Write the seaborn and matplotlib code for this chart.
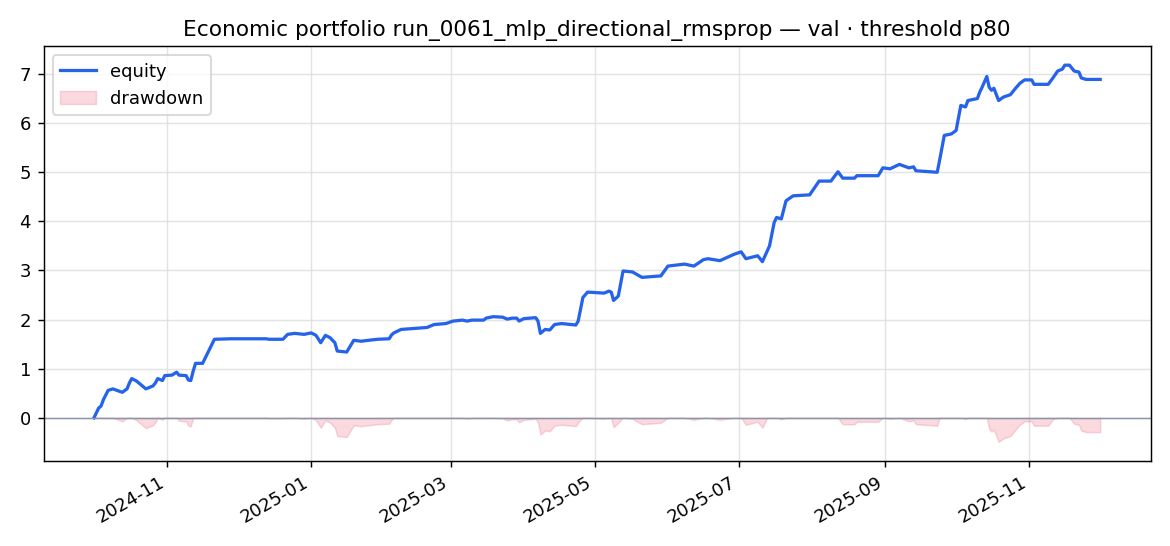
import numpy as np
import pandas as pd
import matplotlib
matplotlib.use("Agg")
import matplotlib.pyplot as plt
import seaborn as sns

# Day offsets from the first date and equity values
start_date = "2024-10-01"
day_offsets = [0, 2, 3, 4, 6, 8, 12, 14, 15, 16, 18, 22, 25, 26, 27, 29, 30, 33, 35, 36,
               39, 40, 41, 42, 43, 46, 51, 58, 73, 74, 80, 82, 85, 89, 92, 94, 96, 98, 100, 102,
               103, 107, 109, 110, 113, 120, 125, 126, 127, 130, 141, 144, 149, 152, 156, 158, 160, 165, 166, 169,
               173, 175, 177, 179, 180, 182, 187, 188, 189, 191, 193, 195, 198, 204, 205, 207, 209, 216, 218, 219,
               220, 222, 224, 228, 232, 240, 243, 250, 254, 258, 260, 265, 271, 274, 276, 281, 283, 285, 286, 288,
               289, 291, 293, 296, 303, 307, 312, 315, 317, 322, 323, 332, 334, 337, 341, 345, 347, 348, 357, 358,
               360, 363, 365, 367, 369, 370, 374, 375, 376, 378, 379, 380, 381, 383, 385, 388, 390, 392, 394, 397,
               398, 404, 406, 408, 410, 411, 413, 415, 417, 418, 420, 426]
equity_values = [0.00, 0.20, 0.24, 0.37, 0.56, 0.59, 0.52, 0.59, 0.71, 0.80, 0.75, 0.59, 0.65, 0.71, 0.80, 0.76, 0.86, 0.87, 0.93, 0.87,
                 0.86, 0.77, 0.76, 0.95, 1.11, 1.11, 1.60, 1.61, 1.61, 1.60, 1.60, 1.70, 1.72, 1.70, 1.73, 1.68, 1.53, 1.68, 1.63, 1.53,
                 1.36, 1.34, 1.50, 1.58, 1.56, 1.60, 1.61, 1.69, 1.73, 1.80, 1.84, 1.90, 1.92, 1.97, 1.99, 1.97, 1.99, 1.99, 2.03, 2.06,
                 2.05, 2.01, 2.03, 2.03, 1.97, 2.02, 2.04, 1.97, 1.72, 1.80, 1.79, 1.90, 1.92, 1.89, 1.97, 2.45, 2.56, 2.54, 2.58, 2.56,
                 2.39, 2.48, 2.99, 2.97, 2.86, 2.89, 3.09, 3.13, 3.09, 3.22, 3.24, 3.20, 3.33, 3.38, 3.24, 3.30, 3.18, 3.39, 3.50, 3.98,
                 4.08, 4.05, 4.42, 4.52, 4.54, 4.82, 4.82, 5.01, 4.88, 4.88, 4.93, 4.93, 5.09, 5.07, 5.16, 5.09, 5.11, 5.03, 5.00, 5.24,
                 5.75, 5.78, 5.85, 6.36, 6.33, 6.46, 6.50, 6.63, 6.73, 6.95, 6.73, 6.67, 6.71, 6.46, 6.53, 6.58, 6.70, 6.81, 6.88, 6.88,
                 6.79, 6.79, 6.92, 7.06, 7.10, 7.18, 7.18, 7.06, 7.04, 6.92, 6.89, 6.89]

title_text = "Economic portfolio run_0061_mlp_directional_rmsprop \u2014 val \u00b7 threshold p80"

dates = pd.Timestamp(start_date) + pd.to_timedelta(day_offsets, unit="D")
equity = np.array(equity_values)
drawdown = equity - np.maximum.accumulate(equity)
df = pd.DataFrame({"date": dates, "equity": equity, "drawdown": drawdown})

fig, ax = plt.subplots(figsize=(9, 4.2), dpi=130)
sns.lineplot(data=df, x="date", y="equity", ax=ax, color="#2563eb", linewidth=1.8,
             label="equity", estimator=None, sort=False)
ax.fill_between(df["date"], df["drawdown"], 0, color="#e8455f", alpha=0.2,
                linewidth=0.8, label="drawdown")
ax.axhline(0, color="#8896aa", linewidth=0.8)
ax.grid(True, color="#dddddd", linewidth=0.8, alpha=0.8)
ax.set_axisbelow(True)
ax.set_title(title_text, fontsize=12)
ax.set_xlabel("")
ax.set_ylabel("")
ax.legend(loc="upper left")
fig.autofmt_xdate()
fig.tight_layout()
fig.savefig("out.png", dpi=130)
